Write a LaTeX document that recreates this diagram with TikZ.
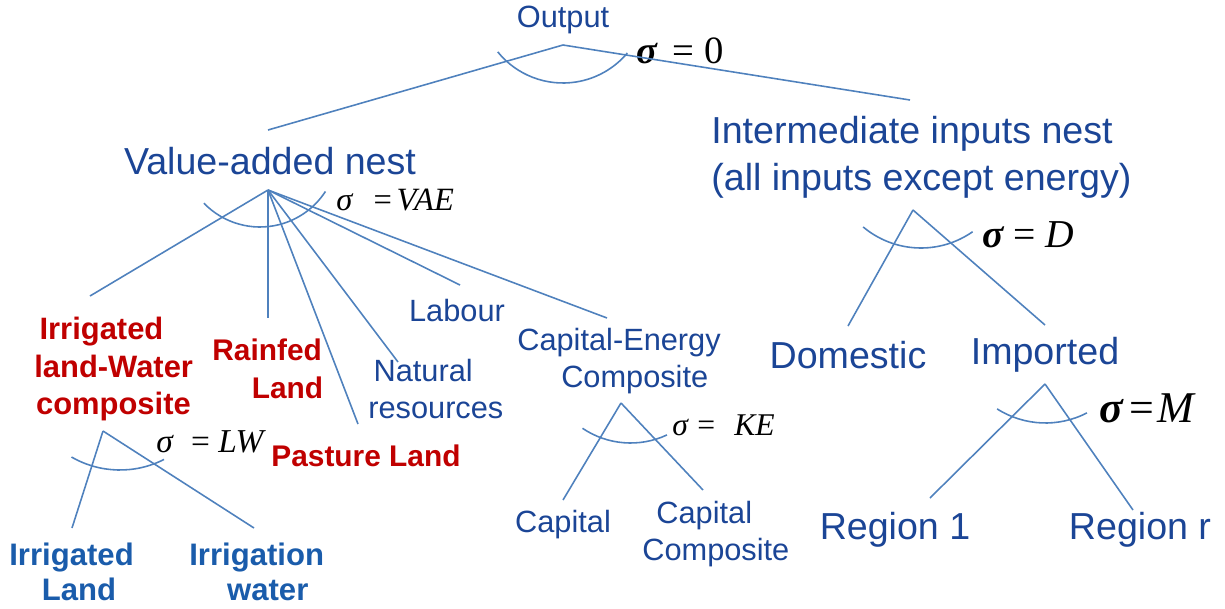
\documentclass[tikz,border=0pt]{standalone}
\usepackage{fontspec}
\setmainfont{Liberation Sans}
\newfontfamily\eqfont{Liberation Serif}
\usetikzlibrary{positioning}
\definecolor{txtblue}{HTML}{1B4596}
\definecolor{boldblue}{HTML}{1A5CAB}
\definecolor{txtred}{HTML}{C00000}
\definecolor{linkblue}{HTML}{4F81BD}

\begin{document}
\begin{tikzpicture}[
      x=0.02cm, y=-0.02cm,
      every node/.style={inner sep=0pt, align=center},
      big/.style={text=txtblue, font=\fontsize{21.4}{26.5}\selectfont},
      small/.style={text=txtblue, font=\fontsize{17.5}{21}\selectfont},
      redbold/.style={text=txtred, font=\fontsize{17}{21.3}\selectfont\bfseries},
      bluebold/.style={text=boldblue, font=\fontsize{17.7}{20}\selectfont\bfseries},
      elast/.style={anchor=base west, font=\eqfont\fontsize{#1}{#1}\selectfont},
      link/.style={draw=linkblue, line width=0.9pt},
    ]
    \useasboundingbox (0,0) rectangle (1225,609);

    % Top level
    \node[small] (out) at (563,20) {Output};
    \node[big]   (va)  at (270,161) {Value-added nest};
    \node[big, align=left, anchor=west] (ii) at (711,157)
      {Intermediate inputs nest\\(all inputs except energy)};

    % Value-added children
    \node[redbold, align=left, anchor=west, font=\fontsize{17.6}{21.3}\selectfont\bfseries] (iw) at (34,369)
      {\hspace*{3pt}Irrigated\\land-Water\\\hspace*{1pt}composite};
    \node[redbold, align=left, anchor=west] (rf) at (212,369) {Rainfed\\\hspace*{22.5pt}Land};
    \node[redbold] (pl) at (366,456) {Pasture Land};
    \node[small, align=left, anchor=west] (nr) at (368,389) {\hspace*{3pt}Natural\\resources};
    \node[small] (lab) at (457,311) {Labour};
    \node[small, align=left, anchor=west] (ke) at (517,361) {Capital-Energy\\\hspace*{25pt}Composite};

    % Intermediate children
    \node[big] (dom) at (848,355) {Domestic};
    \node[big] (imp) at (1045,355) {Imported};

    % Lowest level
    \node[bluebold, align=left, anchor=west] (il)  at (9,572)   {Irrigated\\\hspace*{18.5pt}Land};
    \node[bluebold, align=left, anchor=west] (wat) at (189,572) {Irrigation\\\hspace*{21.5pt}water};
    \node[small] (cap) at (563,525) {Capital};
    \node[small, align=left, anchor=west] (cc) at (642,534) {\hspace*{8pt}Capital\\Composite};
    \node[big] (r1) at (895,530) {Region 1};
    \node[big] (rr) at (1140,530) {Region r};

    % Elasticities
    \node[elast=22] (s0)  at (636,63)
      {{\bfseries\itshape σ}\hspace{0.4em}=\hspace{0.25em}0};
    \node[elast=18.5] (sva) at (336,210)
      {\itshape σ\hspace{0.65em}\upshape=\hspace{0.15em}\itshape VAE};
    \node[elast=19] (slw) at (156,452)
      {\itshape σ\hspace{0.55em}\upshape=\hspace{0.25em}\itshape LW};
    \node[elast=18] (ske) at (672,435)
      {\itshape σ\hspace{0.3em}\upshape=\hspace{0.6em}\itshape KE};
    \node[elast=22.5] (sd)  at (982,247)
      {{\bfseries\itshape σ}\hspace{0.25em}=\hspace{0.25em}\itshape D};
    \node[elast=25] (sm)  at (1099,422)
      {{\bfseries\itshape σ}\hspace{0.15em}=\hspace{0.08em}\itshape M};

    % Branch points and line ends
    \coordinate (out-v) at (563,45);
    \coordinate (va-t)  at (268,130);
    \coordinate (ii-t)  at (910,100);
    \coordinate (va-v)  at (268,190);
    \coordinate (iw-t)  at (90,296);
    \coordinate (rf-t)  at (268,318);
    \coordinate (pl-t)  at (358,424);
    \coordinate (nr-t)  at (398,362);
    \coordinate (lab-t) at (460,285);
    \coordinate (ke-t)  at (607,318);
    \coordinate (ii-v)  at (913,210);
    \coordinate (dom-t) at (848,326);
    \coordinate (imp-t) at (1045,325);
    \coordinate (imp-v) at (1045,384);
    \coordinate (r1-t)  at (930,498);
    \coordinate (rr-t)  at (1133,510);
    \coordinate (iw-v)  at (103,431);
    \coordinate (il-t)  at (72,528);
    \coordinate (wat-t) at (254,528);
    \coordinate (ke-v)  at (621,403);
    \coordinate (cap-t) at (563,500);
    \coordinate (cc-t)  at (703,490);

    % Connections
    \draw[link] (out-v) -- (va-t);
    \draw[link] (out-v) -- (ii-t);
    \foreach \c in {iw-t, rf-t, pl-t, nr-t, lab-t, ke-t}
      \draw[link] (va-v) -- (\c);
    \draw[link] (ii-v) -- (dom-t);
    \draw[link] (ii-v) -- (imp-t);
    \draw[link] (imp-v) -- (r1-t);
    \draw[link] (imp-v) -- (rr-t);
    \draw[link] (iw-v) -- (il-t);
    \draw[link] (iw-v) -- (wat-t);
    \draw[link] (ke-v) -- (cap-t);
    \draw[link] (ke-v) -- (cc-t);

    % Substitution arcs
    \draw[link] (563,-1) ++(141:84) arc[start angle=141, end angle=40, radius=84];
    \draw[link] (260,149) ++(136:78) arc[start angle=136, end angle=33, radius=78];
    \draw[link] (921,158) ++(130:90) arc[start angle=130, end angle=55, radius=90];
    \draw[link] (1045.5,333) ++(122.5:90) arc[start angle=122.5, end angle=62.6, radius=90];
    \draw[link] (120,373) ++(120:97) arc[start angle=120, end angle=63, radius=97];
    \draw[link] (630.6,357) ++(124:86) arc[start angle=124, end angle=65, radius=86];
  \end{tikzpicture}
\end{document}
